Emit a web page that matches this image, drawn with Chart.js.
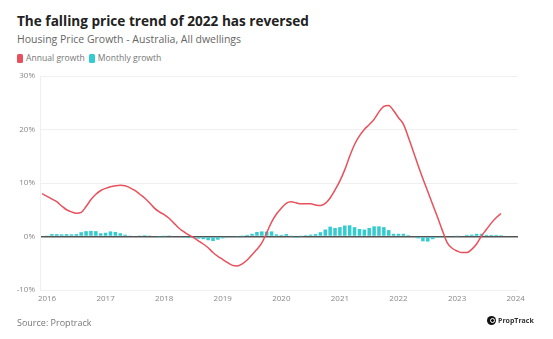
<!DOCTYPE html>
<html>
<head>
<meta charset="utf-8">
<script src="https://cdn.jsdelivr.net/npm/chart.js@4/dist/chart.umd.min.js"></script>
<style>
  html, body { margin: 0; padding: 0; background: #fff; }
  body { width: 553px; height: 339px; position: relative; overflow: hidden; font-family: "Open Sans", sans-serif; }
  #title { position: absolute; left: 17px; top: 13px; font-size: 13.6px; line-height: 16px; font-weight: 700; color: #222; white-space: nowrap; }
  #subtitle { position: absolute; left: 17px; top: 33px; font-size: 10.5px; line-height: 13px; color: #666; white-space: nowrap; }
  #legend { position: absolute; left: 17px; top: 53px; font-size: 8.6px; line-height: 10px; color: #777; white-space: nowrap; display: flex; align-items: center; }
  #legend .sw { display: inline-block; width: 6px; height: 9px; border-radius: 1.5px; margin-right: 3px; }
  #legend .item { display: inline-flex; align-items: center; margin-right: 4px; }
  #source { position: absolute; left: 17px; top: 316px; font-size: 9px; color: #777; white-space: nowrap; }
  #logo { position: absolute; left: 487px; top: 316px; font-size: 7px; font-weight: 700; color: #333; display: flex; align-items: center; white-space: nowrap; }
  #logo .mark { width: 9px; height: 9px; border-radius: 50%; background: #111; margin-right: 2px; position: relative; }
  #logo .mark::after { content: ""; position: absolute; left: 2.5px; top: 2px; width: 3px; height: 3px; border: 1px solid #fff; border-radius: 50%; }
  #chart { position: absolute; left: 0; top: 0; }
</style>
</head>
<body>
<div id="title">The falling price trend of 2022 has reversed</div>
<div id="subtitle">Housing Price Growth - Australia, All dwellings</div>
<div id="legend"></div>
<canvas id="chart" width="553" height="339"></canvas>
<div id="source">Source: Proptrack</div>
<div id="logo"><span class="mark"></span>PropTrack</div>
<script>
// Series run monthly from December 2015 to October 2023
const startYear = 2015;
const startMonth = 12;

// Annual growth, % (one value per month)
const annualGrowth = [
  8.0,
  7.5, 7.0, 6.5, 5.7, 5.0, 4.6, 4.35, 4.5, 5.6, 6.9, 7.9, 8.6,
  9.0, 9.3, 9.5, 9.6, 9.5, 9.1, 8.6, 7.9, 7.2, 6.3, 5.3, 4.6,
  4.1, 3.4, 2.5, 1.6, 0.9, 0.3, -0.2, -0.8, -1.4, -2.1, -3.0, -3.7,
  -4.3, -4.9, -5.4, -5.5, -5.1, -4.4, -3.4, -2.4, -1.2, 0.7, 2.7, 4.2,
  5.3, 6.2, 6.5, 6.3, 6.1, 6.1, 6.1, 5.9, 5.8, 6.2, 7.2, 8.7,
  10.4, 12.5, 15.0, 17.2, 18.8, 20.0, 20.9, 21.9, 23.3, 24.3, 24.5, 23.5,
  22.2, 21.0, 18.6, 16.0, 13.3, 10.8, 8.4, 6.0, 3.6, 1.1, -1.2, -2.2,
  -2.7, -3.0, -3.0, -2.4, -1.4, 0.1, 1.3, 2.5, 3.5, 4.3
];

// Monthly growth, % (one value per month)
const monthlyGrowth = [
  null,
  0.1, 0.45, 0.45, 0.4, 0.45, 0.4, 0.45, 0.8, 1.0, 1.05, 1.0, 0.6,
  0.7, 0.95, 0.85, 0.6, 0.35, 0.1, 0.0, 0.2, 0.25, 0.2, 0.0, -0.05,
  0.05, 0.2, 0.0, -0.15, -0.2, -0.3, -0.3, -0.4, -0.5, -0.7, -0.85, -0.6,
  -0.35, -0.2, -0.15, -0.05, 0.05, 0.3, 0.5, 0.85, 0.95, 0.9, 0.95, 0.4,
  0.3, 0.45, 0.05, -0.25, 0.05, 0.25, 0.35, 0.45, 0.8, 1.3, 1.85, 1.6,
  1.75, 2.05, 2.1, 1.75, 1.4, 1.3, 1.6, 1.9, 1.9, 1.75, 1.2, 0.5,
  0.5, 0.5, 0.25, 0.0, -0.35, -0.9, -0.95, -0.5, -0.25, -0.1, -0.1, 0.0,
  0.05, 0.15, 0.3, 0.35, 0.5, 0.5, 0.3, 0.3, 0.3, 0.25
];

const yTicks = [-10, 0, 10, 20, 30];
const xYears = [2016, 2017, 2018, 2019, 2020, 2021, 2022, 2023, 2024];

const seriesNames = ['Annual growth', 'Monthly growth'];
const seriesColors = ['#e8505b', '#33ccd0'];

// Decimal-year position of each month
const monthPos = annualGrowth.map((_, i) => {
  const m = startMonth - 1 + i;
  return startYear + Math.floor(m / 12) + (m % 12) / 12;
});

const lineData = annualGrowth.map((v, i) => ({ x: monthPos[i], y: v }));
const barData = monthlyGrowth.map((v, i) => ({ x: monthPos[i], y: v }));

// HTML legend
const legend = document.getElementById('legend');
seriesNames.forEach((name, i) => {
  const item = document.createElement('span');
  item.className = 'item';
  item.innerHTML = '<span class="sw" style="background:' + seriesColors[i] + '"></span>' + name;
  legend.appendChild(item);
});

new Chart(document.getElementById('chart'), {
  data: {
    datasets: [
      {
        type: 'line',
        label: seriesNames[0],
        data: lineData,
        borderColor: seriesColors[0],
        borderWidth: 1.5,
        pointRadius: 0,
        cubicInterpolationMode: 'monotone',
        order: 0
      },
      {
        type: 'bar',
        label: seriesNames[1],
        data: barData,
        backgroundColor: seriesColors[1],
        barPercentage: 0.72,
        categoryPercentage: 1,
        order: 1
      }
    ]
  },
  options: {
    responsive: false,
    animation: false,
    layout: { padding: { left: 0, right: 35, top: 76, bottom: 29 } },
    plugins: { legend: { display: false }, tooltip: { enabled: false } },
    scales: {
      x: {
        type: 'linear',
        offset: false,
        min: 2015.88,
        max: 2024.04,
        grid: { display: false, drawTicks: false, tickLength: 0 },
        border: { display: false },
        ticks: {
          includeBounds: false,
          stepSize: 1,
          maxRotation: 0,
          autoSkip: false,
          padding: 4,
          color: '#888',
          font: { family: 'Open Sans', size: 8 },
          callback: (v) => String(v)
        },
        afterBuildTicks: (scale) => {
          scale.ticks = xYears.map(y => ({ value: y }));
        },
        afterFit: (scale) => { scale.height = 20; }
      },
      y: {
        min: -10,
        max: 30,
        grid: {
          color: (c) => c.tick && c.tick.value === 0 ? '#555' : '#efefef',
          lineWidth: (c) => c.tick && c.tick.value === 0 ? 1.5 : 1,
          drawTicks: false
        },
        border: { display: true, color: '#efefef' },
        ticks: {
          padding: 5,
          color: '#888',
          font: { family: 'Open Sans', size: 8 },
          callback: (v) => v + '%'
        },
        afterBuildTicks: (scale) => {
          scale.ticks = yTicks.map(v => ({ value: v }));
        },
        afterFit: (scale) => { scale.width = 40; }
      }
    }
  }
});
</script>
</body>
</html>
